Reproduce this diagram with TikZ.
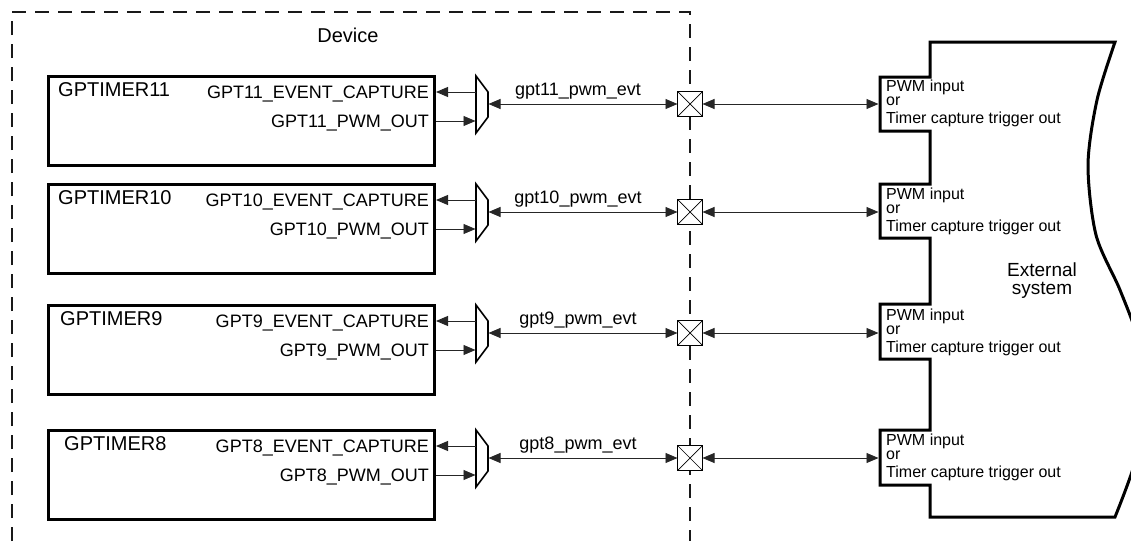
\documentclass[tikz,border=0pt]{standalone}
\usepackage{fontspec}
\setmainfont{Liberation Sans}
\usetikzlibrary{arrows.meta}
\begin{document}
\begin{tikzpicture}[x=1pt,y=-1pt,
  >={Triangle[length=12pt,width=10pt]},
  dev/.style={line width=1.8pt,dash pattern=on 14pt off 9pt,color=black!90},
  tb/.style={draw,line width=3pt,minimum width=386pt,minimum height=89pt,inner sep=0pt},
  mux/.style={line width=1.6pt,line join=miter},
  conn/.style={line width=0.9pt,color=black!85},
  xbox/.style={draw,fill=white,line width=0.9pt,minimum size=25pt,inner sep=0pt,outer sep=0pt},
  tlabel/.style={font=\fontsize{20}{22}\selectfont,inner sep=0pt},
  pinlbl/.style={font=\fontsize{18}{20}\selectfont,inner sep=0pt},
  evt/.style={font=\fontsize{18}{20}\selectfont,inner sep=0pt},
  portlbl/.style={font=\fontsize{16}{18}\selectfont,inner sep=0pt,anchor=base west},
  ext/.style={line width=3pt,line join=miter},
  biglbl/.style={font=\fontsize{20}{22}\selectfont,inner sep=0pt}]
\useasboundingbox (0,0) rectangle (1131,541);
\clip (0,0) rectangle (1131,541);
% device boundary
\draw[dev] (12,541) -- (12,12) -- (690,12) -- (690,541);
\node[biglbl,anchor=base] (devlbl) at (348,42) {Device};
% external system
\draw[ext] (930,42) -- plot[smooth] coordinates {(1115,42) (1097,100) (1088,165) (1096,235) (1120,290) (1138,340) (1146,400) (1135,462) (1115,517)}
  -- (930,517) -- (930,485) -- (880,485) -- (880,430) -- (930,430)
  -- (930,359) -- (880,359) -- (880,304) -- (930,304)
  -- (930,238) -- (880,238) -- (880,184) -- (930,184)
  -- (930,131) -- (880,131) -- (880,77) -- (930,77) -- cycle;
\node[biglbl,font=\fontsize{19}{21}\selectfont,anchor=base] (ext1) at (1042,276) {External};
\node[biglbl,font=\fontsize{19}{21}\selectfont,anchor=base] (ext2) at (1042,294) {system};
% rows
\foreach \n/\E/\gx in {11/104/58,10/212/58,9/333/60,8/458/64}{
  \node[tb,anchor=north west] (t\n) at (47,\E-29) {};
  \node[tlabel,anchor=base west] (tl\n) at (\gx,\E-8) {GPTIMER\n};
  \node[pinlbl,anchor=base east] (cl\n) at (429,\E-6) {GPT\n\_EVENT\_CAPTURE};
  \node[pinlbl,anchor=base east] (pl\n) at (429,\E+23.5) {GPT\n\_PWM\_OUT};
  \coordinate (mtl\n) at (476,\E-28);
  \coordinate (mtr\n) at (488,\E-12);
  \coordinate (mbr\n) at (488,\E+13);
  \coordinate (mbl\n) at (476,\E+29);
  \draw[mux] (mtl\n) -- (mtr\n) -- (mbr\n) -- (mbl\n) -- cycle;
  \coordinate (mc\n) at (475.5,\E-12);
  \coordinate (mp\n) at (475.5,\E+17);
  \coordinate (mo\n) at (488.5,\E);
  \draw[conn,->] (mc\n) -- (mc\n -| t\n.east);
  \draw[conn,->] (mp\n -| t\n.east) -- (mp\n);
  \node[xbox] (x\n) at (690,\E) {};
  \draw[line width=0.7pt] (x\n.north west) -- (x\n.south east) (x\n.north east) -- (x\n.south west);
  \draw[conn,<->] (mo\n) -- (x\n.west);
  \node[evt,anchor=base] (el\n) at (578,\E-9) {gpt\n\_pwm\_evt};
  \coordinate (pa\n) at (878.5,\E);
  \draw[conn,<->] (x\n.east) -- (pa\n);
  \node[portlbl] (pw\n) at (886,\E-13) {PWM input};
  \node[portlbl] (po\n) at (886,\E+1) {or};
  \node[portlbl] (pt\n) at (886,\E+19) {Timer capture trigger out};
}
\end{tikzpicture}
\end{document}
